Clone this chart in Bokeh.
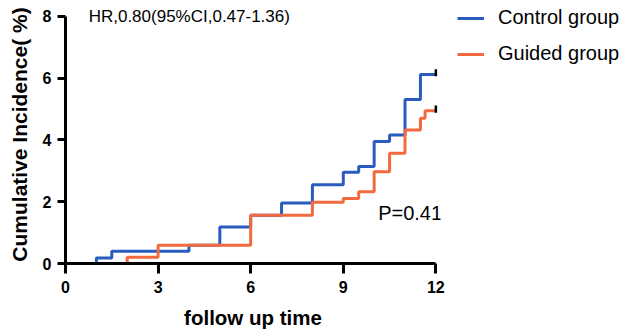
from bokeh.plotting import figure
from bokeh.models import Label, Legend, LegendItem, Range1d, FixedTicker
from bokeh.embed import file_html
from bokeh.resources import INLINE

# Data
control_time = [0, 1, 1.5, 4, 5, 6, 7, 8, 9, 9.5, 10, 10.5, 11, 11.5, 12]
control_inc = [0, 0.18, 0.40, 0.59, 1.18, 1.56, 1.96, 2.55, 2.95, 3.14, 3.95, 4.16, 5.31, 6.12, 6.12]
guided_time = [0, 2, 3, 6, 8, 9, 9.5, 10, 10.5, 11, 11.5, 11.65, 12]
guided_inc = [0, 0.20, 0.59, 1.56, 1.98, 2.10, 2.32, 2.97, 3.57, 4.32, 4.70, 4.94, 4.94]
x_ticks = [0, 3, 6, 9, 12]
y_ticks = [0, 2, 4, 6, 8]
hr_text = "HR,0.80(95%CI,0.47-1.36)"
p_text = "P=0.41"

BLUE = "#2a5cc0"
ORANGE = "#f26a3e"
FONT = "Liberation Sans"

p = figure(frame_width=375, frame_height=258, output_backend="svg", toolbar_location=None,
           min_border_left=65, min_border_top=5, min_border_bottom=58, min_border_right=185,
           x_range=Range1d(0, 12.15), y_range=Range1d(0, 8.35))
p.outline_line_color = None
p.grid.visible = False

for ax in (p.xaxis[0], p.yaxis[0]):
    ax.axis_line_width = 3
    ax.axis_line_color = "black"
    ax.major_tick_line_width = 3
    ax.major_tick_line_color = "black"
    ax.minor_tick_line_color = None
    ax.major_tick_in = 0
    ax.major_label_text_font = FONT
    ax.major_label_text_font_style = "bold"
    ax.major_label_text_font_size = "16px"
    ax.major_label_text_color = "black"
    ax.axis_label_text_font = FONT
    ax.axis_label_text_font_style = "bold"
    ax.axis_label_text_color = "black"

p.xaxis.ticker = FixedTicker(ticks=x_ticks)
p.yaxis.ticker = FixedTicker(ticks=y_ticks)
p.xaxis.bounds = (x_ticks[0], x_ticks[-1])
p.yaxis.bounds = (y_ticks[0], y_ticks[-1])
p.xaxis.major_tick_out = 10
p.yaxis.major_tick_out = 8
p.xaxis.major_label_standoff = 7
p.yaxis.major_label_standoff = 6

p.xaxis.axis_label = "follow up time"
p.xaxis.axis_label_text_font_size = "20.5px"
p.xaxis.axis_label_standoff = 10
p.yaxis.axis_label = "Cumulative Incidence( %)"
p.yaxis.axis_label_text_font_size = "21px"
p.yaxis.axis_label_standoff = 9

r_c = p.step(control_time, control_inc, mode="after", line_color=BLUE, line_width=3)
r_g = p.step(guided_time, guided_inc, mode="after", line_color=ORANGE, line_width=3)
# censor ticks at end of follow-up (short vertical strokes at the last point)
last_t = [control_time[-1], guided_time[-1]]
last_v = [control_inc[-1], guided_inc[-1]]
p.segment(x0=last_t, y0=[v - 0.06 for v in last_v], x1=last_t, y1=[v + 0.17 for v in last_v],
          line_color="black", line_width=2.5)

p.add_layout(Label(x=0.75, y=7.98, text=hr_text, text_align="left", text_baseline="middle",
                   text_font=FONT, text_font_size="17px", text_color="black"))
p.add_layout(Label(x=10.13, y=1.63, text=p_text, text_align="left", text_baseline="middle",
                   text_font=FONT, text_font_size="20px", text_color="black"))

legend = Legend(items=[LegendItem(label="Control group", renderers=[r_c]),
                       LegendItem(label="Guided group", renderers=[r_g])],
                location=(6, 187), border_line_color="white",
                label_text_font=FONT, label_text_font_size="20px",
                label_text_color="black", glyph_width=27, glyph_height=20, label_height=20,
                label_standoff=14, spacing=13)
p.add_layout(legend, "right")

open("out.html", "w").write(file_html(p, INLINE))
